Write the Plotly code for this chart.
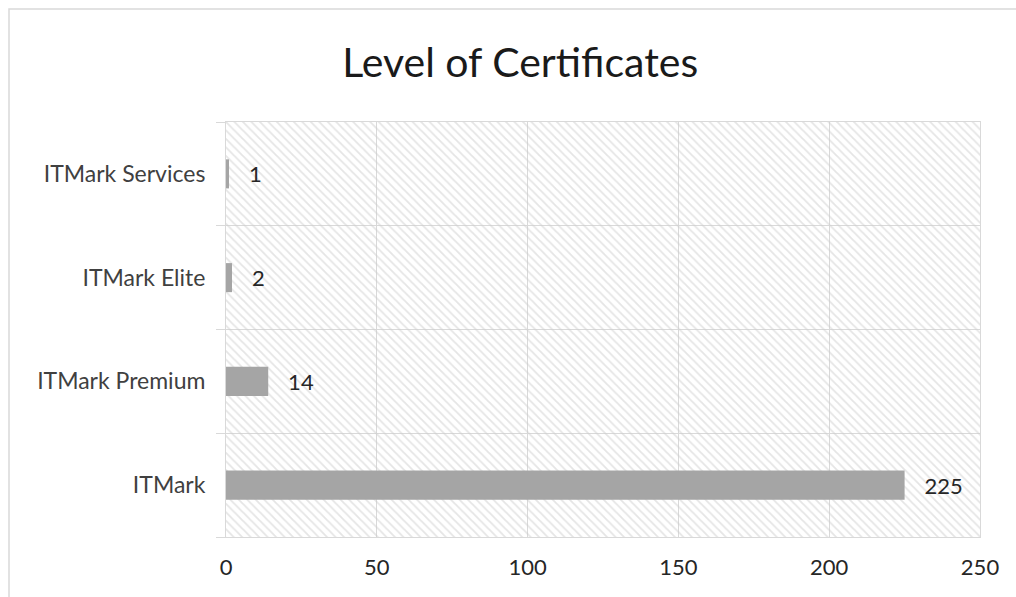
import plotly.graph_objects as go

categories = ["ITMark", "ITMark Premium", "ITMark Elite", "ITMark Services"]
values = [225, 14, 2, 1]
x_ticks = [0, 50, 100, 150, 200, 250]

FONT = "Lato"
fig = go.Figure()

# hatched plot-area background (one full-width band per category)
fig.add_trace(go.Bar(
    x=[x_ticks[-1]] * len(categories), y=categories, orientation="h", width=1,
    marker=dict(color="rgba(0,0,0,0)", line=dict(width=0),
                pattern=dict(shape="\\", fgcolor="#cccccc", bgcolor="rgba(0,0,0,0)",
                             size=6, solidity=0.3)),
    hoverinfo="skip", showlegend=False,
))

fig.add_trace(go.Bar(
    x=values, y=categories, orientation="h", width=0.28,
    marker=dict(color="#a5a5a5", line=dict(width=0)),
    text=[f"\u00a0\u00a0\u00a0{v}" for v in values], textposition="outside",
    textfont=dict(family=FONT, size=22, color="#262626"),
    cliponaxis=False, showlegend=False,
))

fig.update_layout(
    width=1016, height=597,
    margin=dict(l=226, r=36, t=122, b=60),
    paper_bgcolor="white", plot_bgcolor="white",
    barmode="overlay",
    title=dict(text="Level of Certificates", x=0.512, xanchor="center", y=0.895, yanchor="middle",
               font=dict(family=FONT, size=41, color="#1a1a1a")),
    xaxis=dict(range=[0, 250], tickvals=x_ticks, showgrid=True, gridcolor="#d9d9d9", gridwidth=1,
               zeroline=False, showline=True, linecolor="#d9d9d9",
               ticks="outside", ticklen=0, ticklabelstandoff=11,
               tickfont=dict(family=FONT, size=22, color="#262626"), mirror=True),
    yaxis=dict(type="category", categoryorder="array", categoryarray=categories,
               showgrid=True, gridcolor="#d9d9d9", tickson="boundaries",
               ticks="outside", ticklen=9, tickcolor="#d9d9d9",
               showline=True, linecolor="#d9d9d9", mirror=True,
               tickfont=dict(family=FONT, size=23, color="#404040"), ticklabelstandoff=15),
    shapes=[dict(type="rect", xref="paper", yref="paper",
                 x0=(9 - 226) / 754, x1=(1030 - 226) / 754,
                 y0=(537 - 610) / 415, y1=1 + (122 - 9) / 415,
                 line=dict(color="#d9d9d9", width=1.5), fillcolor="rgba(0,0,0,0)", layer="below")],
)

fig.write_html("out.html")
